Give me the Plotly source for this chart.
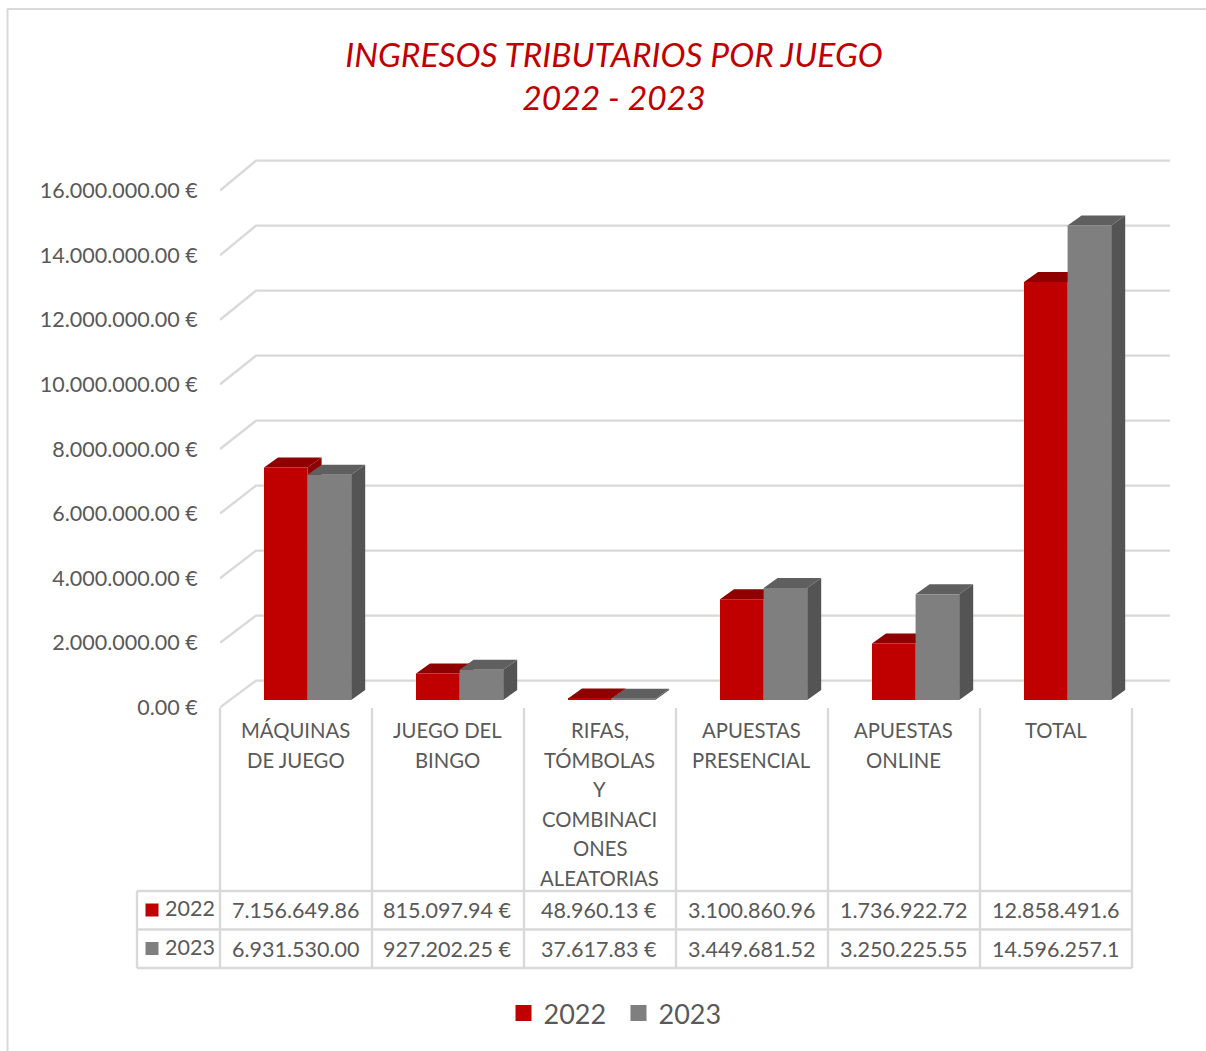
import plotly.graph_objects as go

TITLE = "<i>INGRESOS TRIBUTARIOS POR JUEGO<br>2022 - 2023</i>"
CATEGORY_LINES = [
    ["MÁQUINAS", "DE JUEGO"],
    ["JUEGO DEL", "BINGO"],
    ["RIFAS,", "TÓMBOLAS", "Y", "COMBINACI", "ONES", "ALEATORIAS"],
    ["APUESTAS", "PRESENCIAL"],
    ["APUESTAS", "ONLINE"],
    ["TOTAL"],
]
VALUES_2022 = [7156649.86, 815097.94, 48960.13, 3100860.96, 1736922.72, 12858491.6]
VALUES_2023 = [6931530.00, 927202.25, 37617.83, 3449681.52, 3250225.55, 14596257.1]
TABLE_2022 = ["7.156.649.86", "815.097.94 €", "48.960.13 €", "3.100.860.96", "1.736.922.72", "12.858.491.6"]
TABLE_2023 = ["6.931.530.00", "927.202.25 €", "37.617.83 €", "3.449.681.52", "3.250.225.55", "14.596.257.1"]
GRID_VALUES = [0, 2e6, 4e6, 6e6, 8e6, 10e6, 12e6, 14e6, 16e6]
TICK_LABELS = ["0.00 €", "2.000.000.00 €", "4.000.000.00 €", "6.000.000.00 €", "8.000.000.00 €",
               "10.000.000.00 €", "12.000.000.00 €", "14.000.000.00 €", "16.000.000.00 €"]

FONT = "Lato"
TEXT = "#595959"
LINE = "#d9d9d9"
RED, RED_TOP, RED_SIDE = "#c00000", "#8f0000", "#8f0000"
GREY, GREY_TOP, GREY_SIDE = "#7f7f7f", "#5f5f5f", "#545454"

W, H = 1206, 1051
LEFT = 220
CELL = 152.0
PX_PER_UNIT = 32.5 / 1e6
BASE_PX = 700


def xd(px):
    return (px - LEFT) / CELL - 0.5


def yd(px):
    return (BASE_PX - px) / PX_PER_UNIT


def px_x(px):
    return (px - LEFT) / (W - LEFT)


def px_y(py):
    return 1 - py / H


x_range = [xd(LEFT), xd(W)]
y_range = [yd(H), yd(0)]
bar_w = 43.6 / CELL
shift = 11.6 / CELL
dx = 14 / CELL
dv = 10 / PX_PER_UNIT


def grid_front(v):
    return yd(707.4 - v * 32.3 / 1e6)


def grid_back(v):
    return yd(680.6) + v


fig = go.Figure()

# back wall and left wall grid
gx, gy = [], []
for v in GRID_VALUES:
    gx += [xd(LEFT), xd(256), xd(1170), None]
    gy += [grid_front(v), grid_back(v), grid_back(v), None]
fig.add_trace(go.Scatter(x=gx, y=gy, mode="lines", line=dict(color=LINE, width=2.4),
                         hoverinfo="skip", showlegend=False))


def faces(values, left_of):
    sx, sy, tx, ty = [], [], [], []
    for i, v in enumerate(values):
        a = left_of(i)
        b = a + bar_w
        sx += [b, b + dx, b + dx, b, b, None]
        sy += [0, dv, v + dv, v, 0, None]
        tx += [a, b, b + dx, a + dx, a, None]
        ty += [v, v, v + dv, v + dv, v, None]
    return sx, sy, tx, ty


for vals, lf, side, top in [
    (VALUES_2022, lambda i: i + shift - bar_w, RED_SIDE, RED_TOP),
    (VALUES_2023, lambda i: i + shift, GREY_SIDE, GREY_TOP),
]:
    sx, sy, tx, ty = faces(vals, lf)
    for px_, py_, col in [(sx, sy, side), (tx, ty, top)]:
        fig.add_trace(go.Scatter(x=px_, y=py_, mode="lines", fill="toself", fillcolor=col,
                                 line=dict(width=0, color=col), hoverinfo="skip", showlegend=False))

idx = list(range(len(VALUES_2022)))
fig.add_trace(go.Bar(x=idx, y=VALUES_2022, width=bar_w, offset=shift - bar_w, marker_color=RED,
                     marker_line_width=0, name="2022", xaxis="x2", yaxis="y2", showlegend=False))
fig.add_trace(go.Bar(x=idx, y=VALUES_2023, width=bar_w, offset=shift, marker_color=GREY,
                     marker_line_width=0, name="2023", xaxis="x2", yaxis="y2", showlegend=False))

# legend keys
for name, col in [("2022", RED), ("2023", GREY)]:
    fig.add_trace(go.Scatter(x=[None], y=[None], mode="markers", name=name,
                             marker=dict(symbol="square", size=17, color=col)))

shapes = []


def line_shape(x0, y0, x1, y1, width=2.4):
    shapes.append(dict(type="line", xref="paper", yref="paper", x0=px_x(x0), y0=px_y(y0),
                       x1=px_x(x1), y1=px_y(y1), line=dict(color=LINE, width=width)))


# outer frame
line_shape(7.5, 9, 7.5, H, 2)
line_shape(7, 9, W, 9, 2)

# data table rules
col_edges = [LEFT + CELL * k for k in range(7)]
for e in col_edges:
    line_shape(e, 708, e, 968)
line_shape(137, 891, 137, 968)
for py in (891, 929.5, 968):
    line_shape(137, py, col_edges[-1], py)

# table keys
for py, col in [(910, RED), (948.5, GREY)]:
    shapes.append(dict(type="rect", xref="paper", yref="paper", x0=px_x(145.5), x1=px_x(158.5),
                       y0=px_y(py + 6.5), y1=px_y(py - 6.5), fillcolor=col, line_width=0))

anns = []


def text_at(px, py, s, size=21.5):
    anns.append(dict(xref="paper", yref="paper", x=px_x(px), y=px_y(py), text=s, showarrow=False,
                     xanchor="center", yanchor="middle", font=dict(family=FONT, size=size, color=TEXT)))


for i, lines in enumerate(CATEGORY_LINES):
    cx = LEFT + CELL * (i + 0.5)
    for k, ln in enumerate(lines):
        text_at(cx - 0.5, 730 + 29.5 * k, ln, size=20.3)
    text_at(cx - 1, 910, TABLE_2022[i])
    text_at(cx - 1, 949, TABLE_2023[i])
text_at(190, 908, "2022")
text_at(190, 947, "2023")

fig.update_layout(
    width=W, height=H, autosize=False,
    margin=dict(l=LEFT, r=0, t=0, b=0),
    paper_bgcolor="white", plot_bgcolor="white",
    title=dict(text=TITLE, x=614 / W, xanchor="center", y=1 - 66.5 / H, yanchor="top",
               font=dict(family=FONT, size=33.6, color=RED)),
    barmode="overlay",
    xaxis=dict(range=x_range, visible=False, fixedrange=True),
    xaxis2=dict(range=x_range, visible=False, overlaying="x", fixedrange=True),
    yaxis=dict(range=y_range, tickmode="array", tickvals=[grid_front(v) for v in GRID_VALUES],
               ticktext=TICK_LABELS, showgrid=False, zeroline=False, showline=False,
               ticks="outside", ticklen=17, tickcolor="rgba(0,0,0,0)",
               tickfont=dict(family=FONT, size=21.5, color=TEXT), fixedrange=True),
    yaxis2=dict(range=y_range, visible=False, overlaying="y", fixedrange=True),
    legend=dict(orientation="h", x=px_x(618.5), y=px_y(1013.5), xanchor="center", yanchor="middle",
                font=dict(family=FONT, size=27, color=TEXT), itemsizing="trace",
                entrywidth=70, entrywidthmode="pixels", bgcolor="rgba(0,0,0,0)"),
    shapes=shapes, annotations=anns,
)

fig.write_html("out.html", post_script="document.body.style.margin='0';",
               config={"displayModeBar": False})
